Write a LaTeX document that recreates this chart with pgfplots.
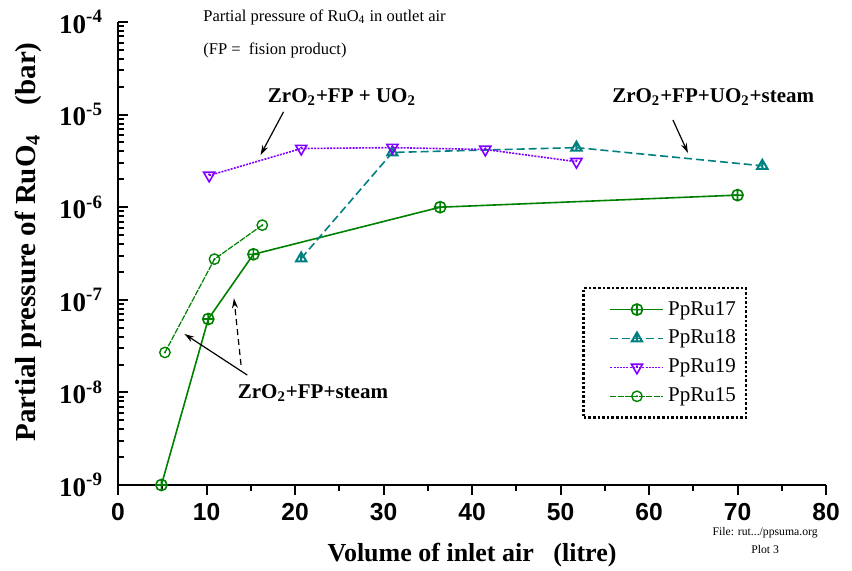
\documentclass[border=0pt]{standalone}
\usepackage{fontspec}
\setmainfont{Liberation Serif}
\setsansfont{Liberation Sans}
\usepackage{pgfplots}
\pgfplotsset{compat=1.18}
\usetikzlibrary{arrows.meta}
\definecolor{cgreen}{RGB}{0,128,0}
\definecolor{cteal}{RGB}{0,128,128}
\definecolor{cpurple}{RGB}{128,0,255}
\pgfdeclareplotmark{odot}{%
  \pgfpathcircle{\pgfpointorigin}{\pgfplotmarksize}\pgfusepathqstroke
  \pgfpathcircle{\pgfpointorigin}{0.22\pgfplotmarksize}\pgfusepathqfill}
\pgfdeclareplotmark{tribar}{%
  \pgfpathmoveto{\pgfqpoint{0pt}{\pgfplotmarksize}}%
  \pgfpathlineto{\pgfqpointpolar{-150}{\pgfplotmarksize}}%
  \pgfpathlineto{\pgfqpointpolar{-30}{\pgfplotmarksize}}%
  \pgfpathclose
  \pgfpathmoveto{\pgfqpoint{0pt}{\pgfplotmarksize}}%
  \pgfpathlineto{\pgfqpoint{0pt}{-0.5\pgfplotmarksize}}%
  \pgfusepathqstroke}
\pgfdeclareplotmark{itridot}{%
  \pgfpathmoveto{\pgfqpoint{0pt}{-\pgfplotmarksize}}%
  \pgfpathlineto{\pgfqpointpolar{150}{\pgfplotmarksize}}%
  \pgfpathlineto{\pgfqpointpolar{30}{\pgfplotmarksize}}%
  \pgfpathclose\pgfusepathqstroke
  \pgfpathcircle{\pgfqpoint{0pt}{0.15\pgfplotmarksize}}{0.2\pgfplotmarksize}\pgfusepathqfill}
\begin{document}
\begin{tikzpicture}
\begin{axis}[
  scale only axis, width=354pt, height=231.5pt,
  xmin=0, xmax=80, ymode=log, ymin=1e-9, ymax=1e-4,
  axis x line=bottom, axis y line=left,
  axis line style={-, line width=1pt},
  xtick={0,10,...,80}, minor x tick num=1,
  xtick align=outside, ytick align=inside,
  major tick length=5pt, minor tick length=3pt,
  every tick/.style={line width=1pt, black},
  ytick={1e-9,1e-8,1e-7,1e-6,1e-5,1e-4},
  yticklabels={\textbf{10\textsuperscript{-9}},\textbf{10\textsuperscript{-8}},\textbf{10\textsuperscript{-7}},\textbf{10\textsuperscript{-6}},\textbf{10\textsuperscript{-5}},\textbf{10\textsuperscript{-4}}},
  xticklabel style={font=\fontsize{12.3}{14}\selectfont\sffamily\bfseries, yshift=-0.5pt},
  xticklabel={\pgfmathprintnumber{\tick}},
  /pgf/number format/assume math mode=true,
  yticklabel style={font=\fontsize{13.5}{15}\selectfont\bfseries, xshift=-4pt},
  xlabel={\textbf{Volume of inlet air \ \ (litre)}},
  xlabel style={font=\fontsize{13}{15}\selectfont, at={(rel axis cs:0.5,-0.151)}, anchor=center},
  ylabel={\textbf{Partial pressure of RuO\textsubscript{4}\hspace{1em}(bar)}},
  ylabel style={font=\fontsize{14.5}{16}\selectfont, at={(rel axis cs:-0.127,0.525)}, anchor=center, rotate=0},
  legend style={at={(rel axis cs:0.656,0.428)}, anchor=north west, draw=black, line width=1.3pt, densely dotted, font=\fontsize{10.5}{12}\selectfont, row sep=2pt, inner xsep=3pt, inner ysep=4.5pt},
  legend cell align=left,
  legend image code/.code={\path (0cm,0cm); \draw[mark repeat=2,mark phase=2,#1] plot coordinates {(0.35cm,0cm) (0.815cm,0cm) (1.28cm,0cm)};},
  clip=false,
]
\addplot[cgreen, solid, line width=0.8pt, mark=oplus, mark size=2.8pt, mark options={solid, line width=0.8pt}] coordinates {
 (4.9,1.0e-9) (10.2,6.2e-8) (15.3,3.1e-7) (36.4,1.0e-6) (70.0,1.35e-6)};
\addlegendentry{PpRu17}
\addplot[cteal, line width=0.8pt, dash pattern=on 4pt off 2pt, mark=tribar, mark size=3pt, mark options={solid, line width=1pt}] coordinates {
 (20.7,2.8e-7) (31.0,3.9e-6) (51.8,4.4e-6) (72.8,2.8e-6)};
\addlegendentry{PpRu18}
\addplot[cpurple, line width=0.8pt, dash pattern=on 1pt off 0.6pt, mark=itridot, mark size=3.2pt, mark options={solid, line width=0.8pt}] coordinates {
 (10.3,2.2e-6) (20.7,4.3e-6) (31.0,4.4e-6) (41.5,4.2e-6) (51.8,3.1e-6)};
\addlegendentry{PpRu19}
\addplot[cgreen, line width=0.6pt, dash pattern=on 3pt off 0.6pt, mark=odot, mark size=2.6pt, mark options={solid, line width=0.7pt}] coordinates {
 (5.3,2.7e-8) (10.9,2.75e-7) (16.3,6.4e-7)};
\addlegendentry{PpRu15}
% annotations
\node[anchor=west, inner sep=0pt, font=\fontsize{8.25}{10}\selectfont] at (rel axis cs:0.12,1.009) {Partial pressure of RuO\textsubscript{4} in outlet air};
\node[anchor=west, inner sep=0pt, font=\fontsize{8.25}{10}\selectfont] at (rel axis cs:0.12,0.9395) {(FP = \ fision product)};
\node[anchor=west, inner sep=0pt, font=\fontsize{10.5}{12}\selectfont\bfseries] at (axis cs:16.9,1.55e-5) {ZrO\textsubscript{2}+FP + UO\textsubscript{2}};
\node[anchor=west, inner sep=0pt, font=\fontsize{10.5}{12}\selectfont\bfseries] at (axis cs:55.8,1.55e-5) {ZrO\textsubscript{2}+FP+UO\textsubscript{2}+steam};
\node[anchor=west, inner sep=0pt, font=\fontsize{10.5}{12}\selectfont\bfseries] at (axis cs:13.5,9.9e-9) {ZrO\textsubscript{2}+FP+steam};
\draw[-{Stealth[length=5pt,width=3pt]}, line width=0.6pt] (axis cs:18.7,1.07e-5) -- (axis cs:16.1,3.66e-6);
\draw[-{Stealth[length=5pt,width=3pt]}, line width=0.6pt] (axis cs:62.7,8.75e-6) -- (axis cs:64.4,3.85e-6);
\draw[-{Stealth[length=5pt,width=3pt]}, line width=0.6pt] (axis cs:14.6,1.54e-8) -- (axis cs:7.5,4.28e-8);
\draw[-{Stealth[length=5pt,width=3pt]}, line width=0.6pt, densely dashed] (axis cs:13.9,1.98e-8) -- (axis cs:13.1,1.04e-7);
\node[font=\fontsize{5.85}{7}\selectfont] at (rel axis cs:0.914,-0.104) {File: rut.../ppsuma.org};
\node[font=\fontsize{5.85}{7}\selectfont] at (rel axis cs:0.914,-0.140) {Plot 3};
\coordinate (bl) at (rel axis cs:-0.1667,-0.1836);
\coordinate (tr) at (rel axis cs:1.0367,1.0475);
\end{axis}
\pgfresetboundingbox
\path[use as bounding box] (bl) rectangle (tr);
\end{tikzpicture}
\end{document}
